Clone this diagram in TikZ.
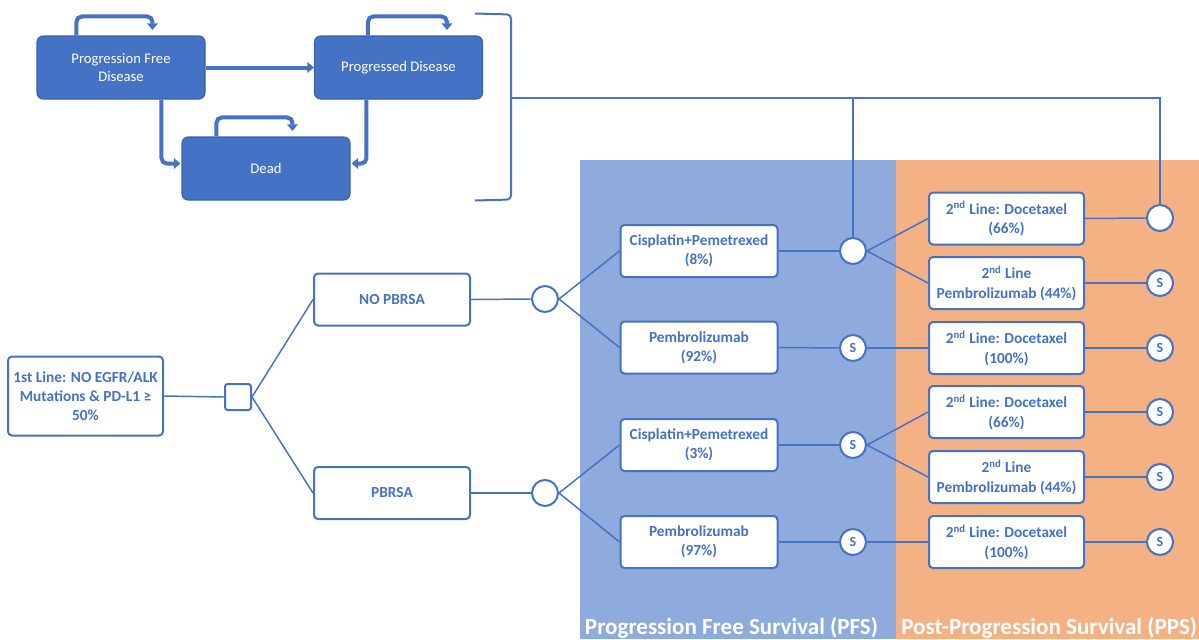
\documentclass[tikz,border=0pt]{standalone}
\usepackage{fontspec}
\setmainfont{Carlito}
\usetikzlibrary{arrows.meta,calc}
\definecolor{mblue}{HTML}{4472C4}
\definecolor{pfs}{HTML}{8FAADC}
\definecolor{pps}{HTML}{F4B183}
\begin{document}
\begin{tikzpicture}[x=0.75pt,y=-0.75pt,
  state/.style={fill=mblue, draw=mblue!85!black, line width=0.8pt, rounded corners=4.5pt,
    minimum width=126pt, minimum height=47.25pt, text=white, inner sep=0pt,
    font=\fontsize{11}{13.5}\selectfont, align=center},
  tbox/.style={fill=white, draw=mblue, line width=1.5pt, rounded corners=3pt,
    minimum width=117pt, minimum height=39pt, text=mblue, inner sep=0pt,
    font=\bfseries\fontsize{11.5}{14.3}\selectfont, align=center},
  flow/.style={draw=mblue, line width=3pt, rounded corners=4pt,
    -{Triangle[length=5pt,width=8pt]}},
  conn/.style={draw=mblue, line width=1.1pt},
  chance/.style={circle, draw=mblue, fill=white, line width=1.5pt, minimum size=19.5pt,
    inner sep=0pt, text=mblue, font=\bfseries\fontsize{10.5}{12}\selectfont},
  decision/.style={draw=mblue, fill=white, line width=1.5pt, rounded corners=2pt,
    minimum size=19.5pt, inner sep=0pt},
  title/.style={text=white, font=\bfseries\fontsize{17.3}{19}\selectfont, anchor=base, inner sep=0pt}
]
\useasboundingbox (0,0) rectangle (1199,639);
\clip (0,0) rectangle (1199,639);

% background regions
\fill[pfs] (580,160) rectangle (896,639);
\fill[pps] (896,160) rectangle (1199,639);
\node[title] (tpfs) at (731.5,634.5) {Progression Free Survival (PFS)};
\node[title, anchor=base west] (tpps) at (901,634.5) {Post-Progression Survival (PPS)};

% Markov states
\node[state] (pfd) at (121,67.5) {Progression Free\\Disease};
\node[state] (pd) at (398.5,67.5) {Progressed Disease};
\node[state] (dead) at (266,168.5) {Dead};

\draw[flow] ($(pfd.north west)+(40,0)$) -- ++(0,-19) -- ++(76,0) -- ++(0,13.5);
\draw[flow] ($(pd.north west)+(54,0)$) -- ++(0,-19) -- ++(79,0) -- ++(0,13.5);
\draw[flow] ($(dead.north west)+(35,0)$) -- ++(0,-19) -- ++(76,0) -- ++(0,13.5);
\draw[flow] (pfd.east) -- (pd.west);
\draw[flow] ($(pfd.south west)+(125,0)$) |- ($(dead.west)+(-1,-5)$);
\draw[flow] ($(pd.south west)+(52.5,0)$) |- ($(dead.east)+(1,-5)$);

% bracket
\draw[mblue, line width=1.5pt, rounded corners=3pt] (475,13.5) -- (511,14.5) -- (511,199.5) -- (475,200.5);
\coordinate (brk) at (511,98);

% decision tree
\node[tbox, minimum width=116.25pt, minimum height=59.25pt] (first) at (85.5,396)
  {1st Line: NO EGFR/ALK\\Mutations \& PD-L1 ≥\\50\%};
\node[decision] (dec) at (238,397) {};
\node[tbox] (nopb) at (392,299.5) {NO PBRSA};
\node[tbox] (pb) at (392,493) {PBRSA};
\node[chance] (c1) at (545,299) {};
\node[chance] (c2) at (545,493) {};

\node[tbox, minimum width=117.75pt] (cis1) at (699,251) {Cisplatin+Pemetrexed\\(8\%)};
\node[tbox, minimum width=117.75pt] (pem1) at (699,347.5) {Pembrolizumab\\(92\%)};
\node[tbox, minimum width=117.75pt] (cis2) at (699,445) {Cisplatin+Pemetrexed\\(3\%)};
\node[tbox, minimum width=117.75pt] (pem2) at (699,542) {Pembrolizumab\\(97\%)};

\node[chance] (m1) at (853,251) {};
\node[chance] (m2) at (853,348) {S};
\node[chance] (m3) at (853,445) {S};
\node[chance] (m4) at (853,542) {S};

\node[tbox, minimum width=116.25pt] (o1) at (1006.5,218.5) {2\textsuperscript{nd} Line: Docetaxel\\(66\%)};
\node[tbox, minimum width=116.25pt] (o2) at (1006.5,283) {2\textsuperscript{nd} Line\\Pembrolizumab (44\%)};
\node[tbox, minimum width=116.25pt] (o3) at (1006.5,348) {2\textsuperscript{nd} Line: Docetaxel\\(100\%)};
\node[tbox, minimum width=116.25pt] (o4) at (1006.5,412) {2\textsuperscript{nd} Line: Docetaxel\\(66\%)};
\node[tbox, minimum width=116.25pt] (o5) at (1006.5,477) {2\textsuperscript{nd} Line\\Pembrolizumab (44\%)};
\node[tbox, minimum width=116.25pt] (o6) at (1006.5,542) {2\textsuperscript{nd} Line: Docetaxel\\(100\%)};

\node[chance] (r1) at (1160,218) {};
\node[chance] (r2) at (1160,283) {S};
\node[chance] (r3) at (1160,348) {S};
\node[chance] (r4) at (1160,412) {S};
\node[chance] (r5) at (1160,477) {S};
\node[chance] (r6) at (1160,542) {S};

% connectors
\draw[conn] (first.east) -- (dec.west);
\draw[conn] (dec.east) -- (nopb.west);
\draw[conn] (dec.east) -- (pb.west);
\draw[conn] (nopb.east) -- (c1.west);
\draw[conn] (pb.east) -- (c2.west);
\draw[conn] (c1.east) -- (cis1.west);
\draw[conn] (c1.east) -- (pem1.west);
\draw[conn] (c2.east) -- (cis2.west);
\draw[conn] (c2.east) -- (pem2.west);
\draw[conn] (cis1.east) -- (m1.west);
\draw[conn] (pem1.east) -- (m2.west);
\draw[conn] (cis2.east) -- (m3.west);
\draw[conn] (pem2.east) -- (m4.west);
\draw[conn] (m1.east) -- (o1.west);
\draw[conn] (m1.east) -- (o2.west);
\draw[conn] (m2.east) -- (o3.west);
\draw[conn] (m3.east) -- (o4.west);
\draw[conn] (m3.east) -- (o5.west);
\draw[conn] (m4.east) -- (o6.west);
\draw[conn] (o1.east) -- (r1.west);
\draw[conn] (o2.east) -- (r2.west);
\draw[conn] (o3.east) -- (r3.west);
\draw[conn] (o4.east) -- (r4.west);
\draw[conn] (o5.east) -- (r5.west);
\draw[conn] (o6.east) -- (r6.west);

% link from Markov bracket to cycle nodes
\draw[conn, line width=1.4pt] (brk) -- (r1.north |- brk) -- (r1.north);
\draw[conn, line width=1.4pt] (m1.north |- brk) -- (m1.north);
\end{tikzpicture}
\end{document}
